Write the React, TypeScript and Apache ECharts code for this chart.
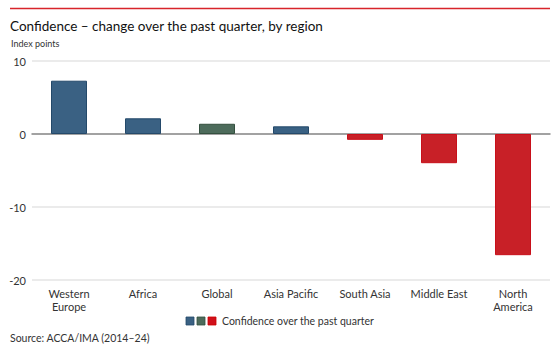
import React, { useEffect, useRef } from "react";
import * as echarts from "echarts";

const categories = ["Western\nEurope", "Africa", "Global", "Asia Pacific", "South Asia", "Middle East", "North\nAmerica"];
const values = [7.3, 2.15, 1.4, 1.05, -0.8, -4.0, -16.6];
const groups = ["region", "region", "global", "region", "region", "region", "region"];
const yTicks = [-20, -10, 0, 10];

const BLUE = "#3a6183";
const BLUE_BORDER = "#24496a";
const GREEN = "#4d6b5b";
const GREEN_BORDER = "#34503f";
const RED = "#c82027";
const RED_BORDER = "#c8101a";
const FONT = "Lato, 'Open Sans', sans-serif";

export default function App() {
  const ref = useRef<HTMLDivElement>(null);
  useEffect(() => {
    const chart = echarts.init(ref.current!, null, { renderer: "svg" });
    const data = values.map((v, i) => {
      const isGlobal = groups[i] === "global";
      const color = v < 0 ? RED : isGlobal ? GREEN : BLUE;
      const border = v < 0 ? RED_BORDER : isGlobal ? GREEN_BORDER : BLUE_BORDER;
      return { value: v, itemStyle: { color, borderColor: border, borderWidth: 1 } };
    });
    chart.setOption({
      animation: false,
      textStyle: { fontFamily: FONT },
      grid: { left: 32, right: 10, top: 61, bottom: 70, containLabel: false },
      xAxis: {
        type: "category",
        data: categories,
        axisLine: { onZero: true, lineStyle: { color: "#8a8a8a", width: 1.5 } },
        axisTick: { show: false },
        axisLabel: {
          position: "bottom",
          color: "#333",
          fontSize: 11,
          fontFamily: FONT,
          lineHeight: 13,
          margin: 7,
          interval: 0,
        },
      },
      yAxis: {
        type: "value",
        min: yTicks[0],
        max: yTicks[yTicks.length - 1],
        interval: 10,
        axisLine: { show: false },
        axisTick: { show: false },
        splitLine: { lineStyle: { color: "#e4e4e4", width: 1.5 } },
        axisLabel: { color: "#333", fontSize: 11, fontFamily: FONT, margin: 6 },
      },
      series: [
        {
          type: "bar",
          data,
          barWidth: 36,
        },
      ],
      graphic: [
        { type: "line", shape: { x1: 10, y1: 8.5, x2: 550, y2: 8.5 }, style: { stroke: "#d8242b", lineWidth: 1.5 } },
        { type: "text", x: 10, y: 26, style: { text: "Confidence – change over the past quarter, by region", font: `normal 13.5px ${FONT}`, fill: "#111", verticalAlign: "middle" } },
        { type: "text", x: 11, y: 43, style: { text: "Index points", font: `9px ${FONT}`, fill: "#333", verticalAlign: "middle" } },
        { type: "rect", shape: { x: 186, y: 317, width: 8, height: 8 }, style: { fill: BLUE, stroke: BLUE_BORDER, lineWidth: 0.8 } },
        { type: "rect", shape: { x: 197, y: 317, width: 8, height: 8 }, style: { fill: GREEN, stroke: GREEN_BORDER, lineWidth: 0.8 } },
        { type: "rect", shape: { x: 208, y: 317, width: 8, height: 8 }, style: { fill: "#d0101a", stroke: "#c00", lineWidth: 0.8 } },
        { type: "text", x: 222, y: 321, style: { text: "Confidence over the past quarter", font: `10.5px ${FONT}`, fill: "#333", verticalAlign: "middle" } },
        { type: "text", x: 10, y: 338, style: { text: "Source: ACCA/IMA (2014–24)", font: `10.5px ${FONT}`, fill: "#333", verticalAlign: "middle" } },
      ],
    });
    return () => chart.dispose();
  }, []);
  return <div ref={ref} style={{ position: "fixed", left: 0, top: 0, width: 560, height: 350, background: "#fff" }} />;
}
